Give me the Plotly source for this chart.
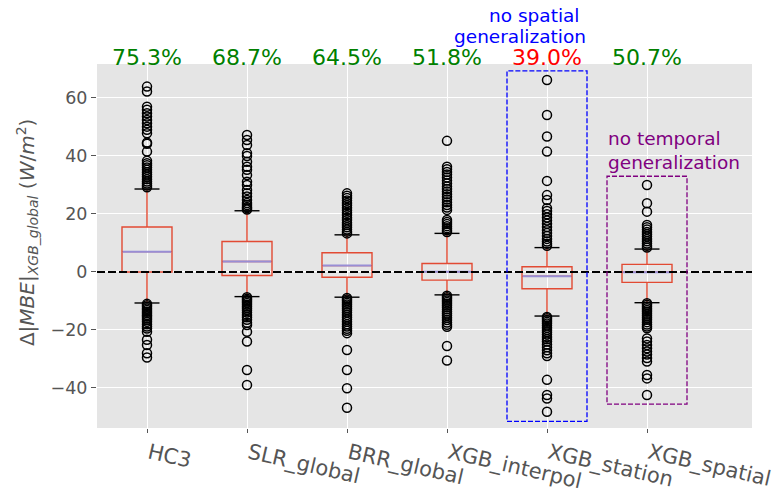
import plotly.graph_objects as go

# ---------------- data ----------------
categories = ["HC3", "SLR_global", "BRR_global", "XGB_interpol", "XGB_station", "XGB_spatial"]
positions = [1, 2, 3, 4, 5, 6]

q1 = [0.0, -1.2, -1.8, -2.8, -5.8, -3.6]
median = [7.0, 3.6, 2.2, 0.1, -1.5, -0.1]
q3 = [15.5, 10.5, 6.6, 2.9, 1.8, 2.6]
whisker_low = [-10.7, -8.5, -8.7, -7.9, -15.2, -10.6]
whisker_high = [28.6, 21.1, 12.8, 13.3, 8.4, 7.9]

outliers_hc3 = [63.9, 62.2, 57.0, 55.9, 54.7, 53.6, 52.4, 51.3, 50.1, 49.0, 47.8, 44.6, 44.2, 41.5,
                38.3, 37.5, 36.8, 36.0, 35.2, 34.4, 33.6, 32.8, 32.0, 31.2, 30.5, 29.8, 29.2,
                -11.0, -11.5, -12.0, -12.6, -13.1, -13.7, -14.2, -14.8, -15.3, -15.9, -16.5, -17.2,
                -18.0, -18.8, -19.5, -20.6, -23.4, -25.2, -28.0, -29.5]
outliers_slr = [47.2, 45.5, 43.8, 40.9, 40.0, 38.0, 36.3, 35.2, 33.4, 31.1, 30.0, 28.3, 27.1, 26.0,
                24.8, 23.8, 23.1, 22.4, 22.0, 21.5,
                -8.7, -9.2, -9.7, -10.2, -10.7, -11.3, -11.9, -12.5, -13.2, -14.0, -14.8, -15.6,
                -16.5, -17.5, -18.3, -20.6, -24.0, -33.8, -39.0]
outliers_brr = [27.1, 26.3, 25.5, 24.6, 23.8, 23.0, 22.1, 21.3, 20.4, 19.6, 18.7, 17.9, 17.0, 16.2,
                15.4, 14.6, 13.9, 13.3,
                -9.0, -9.5, -10.0, -10.6, -11.2, -11.8, -12.5, -13.2, -14.0, -14.8, -15.6, -16.4,
                -17.2, -18.0, -18.8, -19.6, -20.3, -21.1, -26.9, -33.8, -40.1, -46.8]
outliers_interpol = [45.2, 36.3, 35.4, 34.5, 33.6, 32.6, 31.5, 30.5, 29.5, 28.6, 27.7, 26.8, 25.9,
                     25.0, 24.0, 23.1, 22.2, 21.4, 17.9, 17.2, 16.5, 15.8, 15.1, 14.4, 13.8,
                     -8.2, -8.7, -9.2, -9.8, -10.4, -11.0, -11.6, -12.2, -12.9, -13.6, -14.3, -15.0,
                     -15.8, -16.6, -17.4, -18.2, -18.9, -25.5, -30.5]
outliers_station = [66.2, 54.1, 46.7, 41.5, 31.4, 26.5, 24.8, 22.0, 21.0, 19.9, 18.8, 17.7, 16.6,
                    15.5, 14.4, 13.4, 12.4, 11.4, 10.5, 9.7, 9.0,
                    -15.5, -16.0, -16.6, -17.2, -17.8, -18.5, -19.2, -20.0, -20.8, -21.6, -22.4,
                    -23.2, -24.0, -25.0, -26.0, -27.0, -28.0, -29.0, -37.2, -42.4, -43.6, -48.2]
outliers_spatial = [30.0, 23.7, 20.8, 16.2, 15.4, 14.6, 13.8, 13.0, 12.2, 11.4, 10.6, 9.8, 9.0, 8.4,
                    -10.8, -11.3, -11.9, -12.5, -13.1, -13.7, -14.4, -15.1, -15.8, -16.5, -17.3,
                    -18.1, -18.8, -19.4, -22.9, -24.0, -25.2, -26.3, -27.4, -28.5, -29.7, -30.9,
                    -35.5, -36.7, -42.4]
outliers = [outliers_hc3, outliers_slr, outliers_brr, outliers_interpol, outliers_station, outliers_spatial]

pct_labels = ["75.3%", "68.7%", "64.5%", "51.8%", "39.0%", "50.7%"]
pct_colors = ["green", "green", "green", "green", "red", "green"]

# highlight boxes: [x0, x1, y0, y1]
spatial_box = [4.6, 5.4, -51.5, 69.3]
temporal_box = [5.6, 6.4, -45.6, 33.0]

# ---------------- styling ----------------
RED = "#E24A33"
LAV = "#988ED5"
FONT = "DejaVu Sans"
BOX_W = 0.5
CAP_W = 0.25

fig = go.Figure()

fig.add_trace(go.Box(
    x=positions, q1=q1, median=median, q3=q3,
    lowerfence=whisker_low, upperfence=whisker_high,
    width=BOX_W, whiskerwidth=0, boxpoints=False,
    line=dict(color=RED, width=1.4), fillcolor="rgba(0,0,0,0)",
    showlegend=False, hoverinfo="skip",
))

# medians
mx, my = [], []
for p, m in zip(positions, median):
    mx += [p - BOX_W / 2 + 0.007, p + BOX_W / 2 - 0.007, None]
    my += [m, m, None]
fig.add_trace(go.Scatter(x=mx, y=my, mode="lines", line=dict(color=LAV, width=2),
                         showlegend=False, hoverinfo="skip"))

# caps
cx, cy = [], []
for p, lo, hi in zip(positions, whisker_low, whisker_high):
    for v in (lo, hi):
        cx += [p - CAP_W / 2, p + CAP_W / 2, None]
        cy += [v, v, None]
fig.add_trace(go.Scatter(x=cx, y=cy, mode="lines", line=dict(color="black", width=1.4),
                         showlegend=False, hoverinfo="skip"))

# fliers
fx, fy = [], []
for p, vals in zip(positions, outliers):
    fx += [p] * len(vals)
    fy += vals
fig.add_trace(go.Scatter(x=fx, y=fy, mode="markers",
                         marker=dict(symbol="circle-open", size=9, color="black",
                                     line=dict(color="black", width=1.5)),
                         showlegend=False, hoverinfo="skip"))

# zero line
fig.add_shape(type="line", xref="paper", x0=0, x1=1, yref="y", y0=0, y1=0,
              line=dict(color="black", width=2, dash="8px,3px"), layer="above")

# highlight rectangles
fig.add_shape(type="rect", x0=spatial_box[0], x1=spatial_box[1], y0=spatial_box[2], y1=spatial_box[3],
              line=dict(color="blue", width=1.3, dash="5px,2px"), layer="above")
fig.add_shape(type="rect", x0=temporal_box[0], x1=temporal_box[1], y0=temporal_box[2], y1=temporal_box[3],
              line=dict(color="purple", width=1.3, dash="5px,2px"), layer="above")

# percentage labels (above the plotting area -> paper y)
for p, t, c in zip(positions, pct_labels, pct_colors):
    fig.add_annotation(x=p, y=1.019, xref="x", yref="paper", text=t, showarrow=False,
                       xanchor="center", yanchor="middle", borderpad=0,
                       font=dict(family=FONT, size=22, color=c))

fig.add_annotation(x=spatial_box[1], y=1.133, xref="x", yref="paper", xshift=-6,
                   text="no spatial", showarrow=False, borderpad=0,
                   xanchor="right", yanchor="middle",
                   font=dict(family=FONT, size=18.5, color="blue"))
fig.add_annotation(x=spatial_box[1], y=1.076, xref="x", yref="paper",
                   text="generalization", showarrow=False, borderpad=0,
                   xanchor="right", yanchor="middle",
                   font=dict(family=FONT, size=18.5, color="blue"))
fig.add_annotation(x=temporal_box[0], y=42.0, xref="x", yref="y",
                   text="no temporal<br>generalization", showarrow=False, borderpad=0,
                   xanchor="left", yanchor="middle", align="left",
                   font=dict(family=FONT, size=18.5, color="purple"))

# y-axis title as rotated annotation for exact placement
fig.add_annotation(x=-0.107, y=0.538, xref="paper", yref="paper", textangle=-90,
                   text="Δ|<i>MBE</i>|<sub><i>XGB_global</i></sub> (<i>W</i>/<i>m</i><sup>2</sup>)",
                   showarrow=False, xanchor="center", yanchor="middle", borderpad=0,
                   font=dict(family=FONT, size=20, color="#555555"))

fig.update_layout(
    width=777, height=496,
    margin=dict(l=97, r=25, t=64, b=68),
    paper_bgcolor="white", plot_bgcolor="#E5E5E5",
    font=dict(family=FONT, color="#555555"),
    showlegend=False,
)
fig.update_xaxes(
    range=[0.5, 7.05], tickmode="array", tickvals=positions, ticktext=categories,
    tickangle=13, tickfont=dict(size=21, color="#555555", family=FONT),
    ticklabelshift=2,
    ticks="outside", ticklen=4, tickcolor="#555555", tickwidth=1,
    showgrid=True, gridcolor="white", gridwidth=1.2, zeroline=False, showline=False,
    automargin=False,
)
fig.update_yaxes(
    range=[-53.8, 71.7], tickmode="array", tickvals=[-40, -20, 0, 20, 40, 60],
    tickfont=dict(size=17.5, color="#555555", family=FONT),
    ticks="outside", ticklen=5, tickcolor="#555555", tickwidth=1,
    showgrid=True, gridcolor="white", gridwidth=1.2, zeroline=False, showline=False,
    automargin=False,
)

fig.write_html("out.html")
